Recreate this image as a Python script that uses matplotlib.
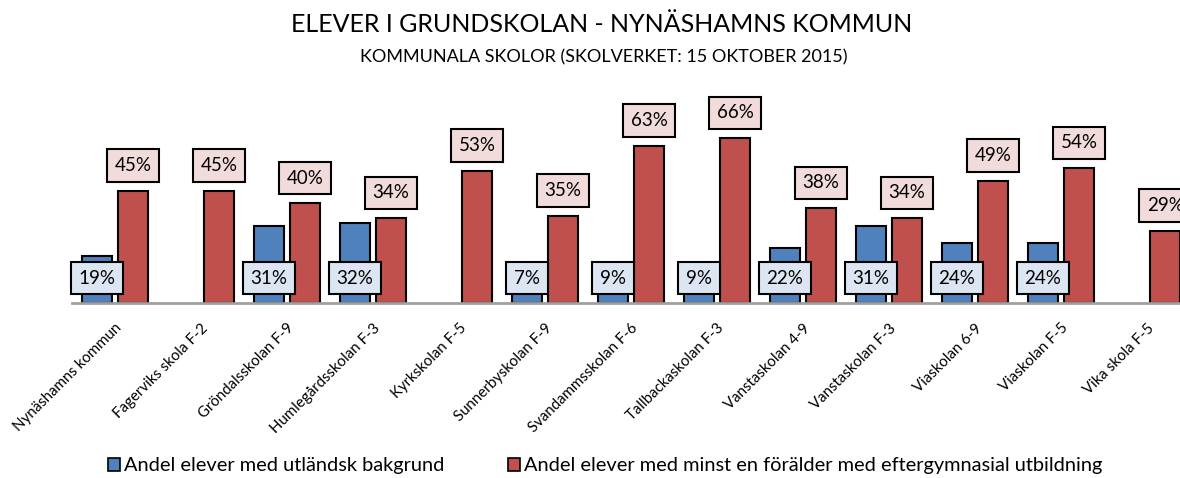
import numpy as np
import matplotlib.pyplot as plt
from matplotlib.patches import Patch

# data
schools = ['Nynäshamns kommun', 'Fagerviks skola F-2', 'Gröndalsskolan F-9',
           'Humlegårdsskolan F-3', 'Kyrkskolan F-5', 'Sunnerbyskolan F-9',
           'Svandammsskolan F-6', 'Tallbackaskolan F-3', 'Vanstaskolan 4-9',
           'Vanstaskolan F-3', 'Viaskolan 6-9', 'Viaskolan F-5', 'Vika skola F-5']
utlandsk = [19, None, 31, 32, None, 7, 9, 9, 22, 31, 24, 24, None]
eftergymn = [45, 45, 40, 34, 53, 35, 63, 66, 38, 34, 49, 54, 29]

series_names = ['Andel elever med utländsk bakgrund',
                'Andel elever med minst en förälder med eftergymnasial utbildning']

BLUE = '#4F81BD'
RED = '#C0504D'
BLUE_BOX = '#DCE6F2'
RED_BOX = '#F2DCDB'

plt.rcParams['font.family'] = ['Lato', 'DejaVu Sans']

W, H = 1180, 478
fig = plt.figure(figsize=(W / 100, H / 100), dpi=100)
ax = fig.add_axes([72 / W, (H - 303) / H, (W - 72) / W, 212.5 / H])

x = np.arange(len(schools))
bw = 0.34
off = 0.21
box = dict(boxstyle='square,pad=0.42', ec='black', lw=1.5)

for i, v in enumerate(utlandsk):
    if v is None:
        continue
    ax.bar(x[i] - off, v, width=bw, color=BLUE, edgecolor='black', linewidth=1.5, zorder=2)
    ax.text(x[i] - off, 10, f'{v}%', ha='center', va='center', fontsize=13.5, zorder=4,
            bbox=dict(box, fc=BLUE_BOX))

for i, v in enumerate(eftergymn):
    ax.bar(x[i] + off, v, width=bw, color=RED, edgecolor='black', linewidth=1.5, zorder=2)
    ax.text(x[i] + off, v + 10, f'{v}%', ha='center', va='center', fontsize=13.5, zorder=4,
            bbox=dict(box, fc=RED_BOX))

ax.set_xlim(-0.5, (W - 115) / 86)
ax.set_ylim(0, 85)
ax.set_yticks([])
ax.set_xticks(x)
ax.set_xticklabels(schools, rotation=45, ha='right', va='top', rotation_mode='anchor',
                   fontsize=10.8)
ax.tick_params(axis='x', length=0, pad=13)
for s in ['top', 'right', 'left']:
    ax.spines[s].set_visible(False)
ax.spines['bottom'].set_color('#A0A0A0')
ax.spines['bottom'].set_linewidth(2)
ax.spines['bottom'].set_zorder(3)

fig.text(0.51, 1 - 25 / H, 'ELEVER I GRUNDSKOLAN - NYNÄSHAMNS KOMMUN',
         ha='center', va='center', fontsize=18)
fig.text(0.512, 1 - 57 / H, 'KOMMUNALA SKOLOR (SKOLVERKET: 15 OKTOBER 2015)',
         ha='center', va='center', fontsize=13)

handles = [Patch(facecolor=BLUE, edgecolor='black', lw=1.2),
           Patch(facecolor=RED, edgecolor='black', lw=1.2)]
fig.legend(handles, series_names, loc='center', bbox_to_anchor=(0.513, 1 - 466 / H),
           ncol=2, frameon=False, fontsize=14.4, handlelength=0.6, handleheight=0.6,
           handletextpad=0.2, columnspacing=3.2)

fig.savefig('out.png', dpi=100)
